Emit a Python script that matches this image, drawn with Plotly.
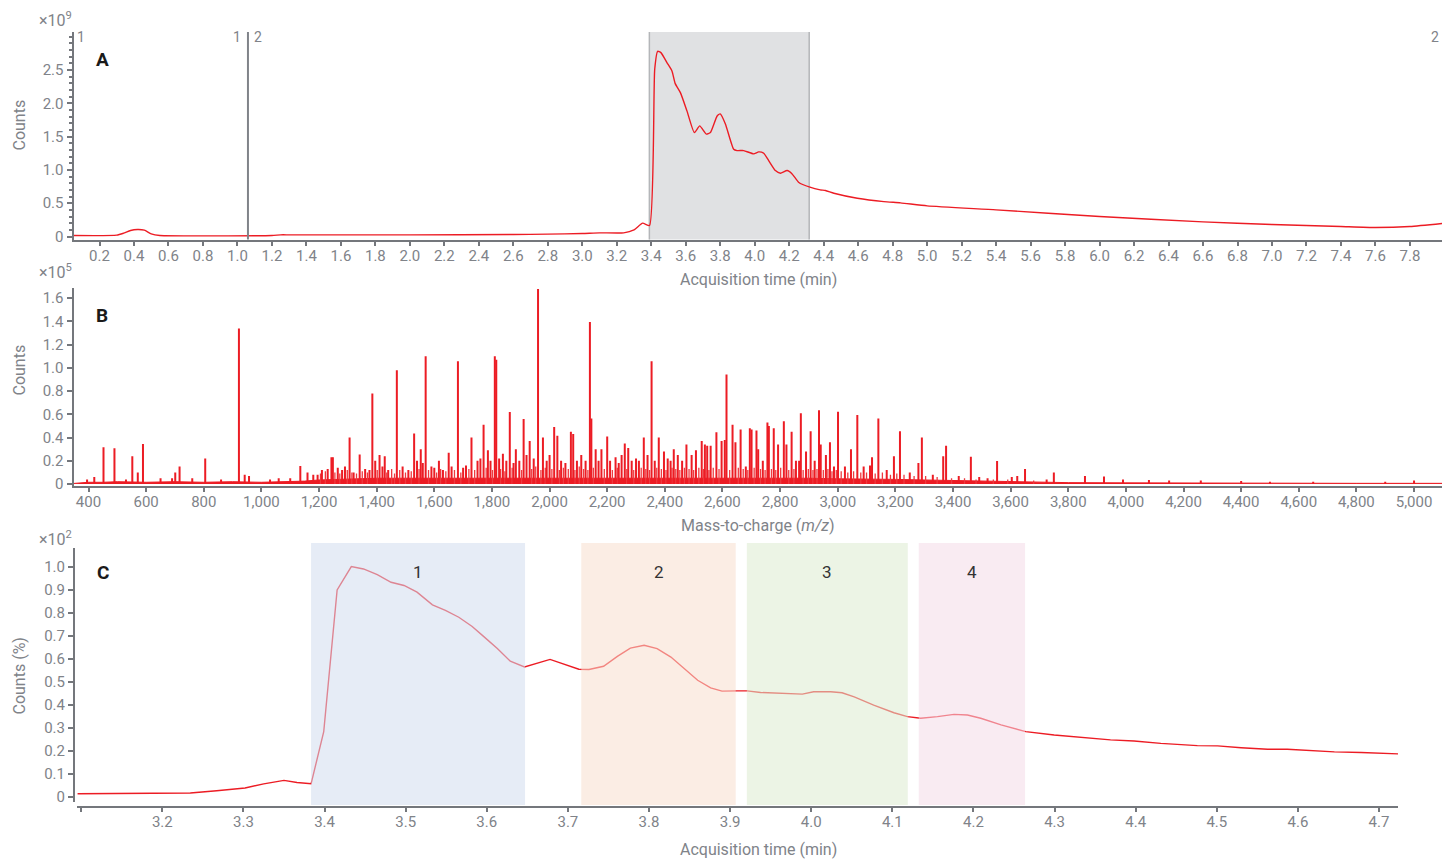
import plotly.graph_objects as go

W, H = 1442, 859
def px(x): return x / W
def py(y): return 1 - y / H

# ---------------- Panel A: TIC chromatogram (counts x1e9) ----------------
tic_time = [0.049, 0.3, 0.34, 0.38, 0.42, 0.46, 0.5, 0.55, 1.2, 1.25, 1.3, 2.0, 2.6, 2.8, 3.0, 3.1,
            3.24, 3.3, 3.35, 3.39, 3.42, 3.437, 3.456, 3.491, 3.52, 3.539, 3.569, 3.607, 3.65, 3.681,
            3.719, 3.743, 3.782, 3.80, 3.83, 3.878, 3.898, 3.936, 3.994, 4.023, 4.052, 4.081, 4.12,
            4.149, 4.188, 4.217, 4.256, 4.32, 4.38, 4.41, 4.459, 4.595, 4.749, 4.846, 5.0, 5.4, 6.0,
            6.6, 7.0, 7.4, 7.6, 7.8, 7.986]
tic_counts_e9 = [0.015, 0.02, 0.05, 0.09, 0.105, 0.095, 0.04, 0.015, 0.015, 0.025, 0.025, 0.025, 0.03,
                 0.035, 0.045, 0.055, 0.055, 0.1, 0.2, 0.165, 2.51, 2.78, 2.76, 2.61, 2.485, 2.295, 2.16,
                 1.886, 1.56, 1.66, 1.537, 1.56, 1.81, 1.84, 1.69, 1.31, 1.29, 1.29, 1.24, 1.27, 1.25,
                 1.14, 0.99, 0.95, 0.99, 0.94, 0.81, 0.74, 0.70, 0.69, 0.65, 0.575, 0.524, 0.505, 0.46,
                 0.40, 0.30, 0.22, 0.18, 0.15, 0.135, 0.15, 0.195]
seg_split_time = 1.061
sel_window = [3.389, 4.316]

# ---------------- Panel B: mass spectrum (counts x1e5) ----------------
peak_mz = [395, 420, 452, 490, 530, 552, 571, 589, 650, 690, 701, 716, 760, 805, 860, 922, 942, 957,
           1030, 1060, 1100, 1135, 1160, 1180, 1195, 1210, 1230, 1243, 1248, 1265, 1280, 1290, 1306,
           1320, 1341, 1360, 1375, 1385, 1395, 1410, 1420, 1428, 1440, 1470, 1490, 1510, 1530, 1540,
           1553, 1560, 1570, 1590, 1600, 1616, 1630, 1650, 1660, 1682, 1700, 1710, 1729, 1750, 1760,
           1771, 1786, 1795, 1810, 1815, 1825, 1838, 1850, 1862, 1875, 1883, 1895, 1910, 1920, 1931,
           1945, 1960, 1977, 1990, 2000, 2016, 2027, 2040, 2055, 2074, 2082, 2095, 2110, 2125, 2140,
           2145, 2160, 2170, 2180, 2200, 2210, 2229, 2240, 2250, 2261, 2273, 2285, 2300, 2310, 2327,
           2340, 2354, 2365, 2379, 2397, 2410, 2420, 2431, 2445, 2460, 2475, 2493, 2508, 2528, 2539,
           2547, 2559, 2579, 2597, 2608, 2614, 2635, 2645, 2663, 2681, 2695, 2701, 2718, 2724, 2740,
           2756, 2761, 2778, 2793, 2813, 2822, 2840, 2855, 2866, 2872, 2890, 2906, 2920, 2935, 2941,
           2959, 2973, 2987, 3001, 3025, 3046, 3068, 3090, 3112, 3119, 3141, 3170, 3195, 3216, 3250,
           3280, 3292, 3330, 3366, 3376, 3420, 3462, 3491, 3520, 3553, 3604, 3623, 3650, 3725, 3750,
           3858, 3924, 3990, 4080, 4150, 4260, 4400, 4500, 4650, 4900, 5000]
peak_int_e5 = [0.04, 0.06, 0.316, 0.307, 0.04, 0.24, 0.10, 0.344, 0.05, 0.05, 0.10, 0.15, 0.05, 0.22,
               0.04, 1.34, 0.08, 0.07, 0.04, 0.05, 0.05, 0.155, 0.10, 0.08, 0.08, 0.12, 0.13, 0.23, 0.23,
               0.14, 0.12, 0.15, 0.40, 0.10, 0.255, 0.13, 0.12, 0.78, 0.20, 0.25, 0.15, 0.24, 0.12, 0.98,
               0.15, 0.12, 0.436, 0.20, 0.30, 0.18, 1.10, 0.15, 0.14, 0.20, 0.12, 0.27, 0.15, 1.058, 0.14,
               0.16, 0.40, 0.20, 0.22, 0.51, 0.29, 0.20, 1.10, 1.07, 0.22, 0.26, 0.20, 0.62, 0.18, 0.30,
               0.20, 0.56, 0.25, 0.37, 0.22, 1.68, 0.40, 0.20, 0.25, 0.49, 0.415, 0.20, 0.18, 0.45, 0.43,
               0.20, 0.25, 0.20, 1.396, 0.565, 0.30, 0.20, 0.30, 0.41, 0.20, 0.23, 0.18, 0.25, 0.35,
               0.31, 0.20, 0.22, 0.20, 0.40, 0.25, 1.058, 0.20, 0.40, 0.28, 0.22, 0.20, 0.30, 0.25, 0.20,
               0.34, 0.25, 0.29, 0.37, 0.34, 0.33, 0.33, 0.445, 0.37, 0.38, 0.943, 0.51, 0.36, 0.47, 0.15,
               0.48, 0.47, 0.46, 0.30, 0.20, 0.53, 0.50, 0.48, 0.34, 0.54, 0.34, 0.45, 0.20, 0.20, 0.61,
               0.28, 0.455, 0.20, 0.636, 0.34, 0.25, 0.36, 0.15, 0.622, 0.15, 0.30, 0.594, 0.15, 0.16,
               0.23, 0.565, 0.12, 0.24, 0.455, 0.10, 0.18, 0.40, 0.08, 0.24, 0.33, 0.07, 0.235, 0.06,
               0.05, 0.198, 0.06, 0.07, 0.13, 0.04, 0.10, 0.07, 0.065, 0.04, 0.035, 0.03, 0.03, 0.025,
               0.02, 0.02, 0.02, 0.03]
# smaller "grass" peaks between the main ones
minor_mz = [1205, 1222, 1255, 1272, 1298, 1314, 1330, 1350, 1368, 1402, 1435, 1452, 1462, 1480, 1500,
            1520, 1547, 1580, 1608, 1622, 1640, 1670, 1692, 1720, 1740, 1780, 1802, 1830, 1845, 1870,
            1903, 1938, 1952, 1970, 1985, 2008, 2034, 2048, 2065, 2088, 2103, 2118, 2133, 2152, 2190,
            2218, 2235, 2268, 2292, 2318, 2334, 2347, 2372, 2388, 2404, 2425, 2438, 2452, 2468, 2484,
            2500, 2518, 2534, 2553, 2568, 2588, 2625, 2655, 2672, 2688, 2710, 2732, 2748, 2770, 2785,
            2802, 2830, 2848, 2880, 2898, 2914, 2928, 2950, 2966, 2980, 2995, 3012, 3035, 3055, 3080,
            3100, 3130, 3155, 3183, 3205, 3230, 3265, 3305, 3345, 3395, 3440, 3480, 3540, 3590, 3680]
minor_int_e5 = [0.09, 0.11, 0.10, 0.09, 0.12, 0.10, 0.09, 0.11, 0.10, 0.12, 0.10, 0.13, 0.09, 0.12, 0.10,
                0.11, 0.13, 0.12, 0.10, 0.13, 0.11, 0.12, 0.10, 0.13, 0.12, 0.14, 0.12, 0.13, 0.11, 0.14,
                0.12, 0.13, 0.15, 0.12, 0.14, 0.13, 0.12, 0.14, 0.13, 0.12, 0.15, 0.13, 0.12, 0.14, 0.13,
                0.12, 0.14, 0.13, 0.12, 0.14, 0.13, 0.12, 0.14, 0.13, 0.12, 0.14, 0.13, 0.12, 0.14, 0.13,
                0.12, 0.14, 0.13, 0.12, 0.14, 0.13, 0.12, 0.14, 0.13, 0.12, 0.14, 0.13, 0.12, 0.13, 0.12,
                0.14, 0.12, 0.13, 0.12, 0.13, 0.12, 0.13, 0.12, 0.13, 0.11, 0.12, 0.11, 0.10, 0.11, 0.10,
                0.10, 0.09, 0.10, 0.08, 0.09, 0.08, 0.07, 0.07, 0.06, 0.05, 0.05, 0.04, 0.04, 0.04, 0.03]
base_mz = [348, 400, 450, 500, 600, 700, 800, 900, 1000, 1100, 1150, 1200, 1250, 1300, 1350, 1400,
           1500, 1600, 1700, 1800, 1900, 2000, 2100, 2200, 2300, 2400, 2500, 2600, 2700, 2800, 2900,
           3000, 3100, 3200, 3300, 3400, 3500, 3600, 3700, 3800, 4000, 4200, 4500, 4800, 5097]
base_int_e5 = [0.005, 0.015, 0.015, 0.02, 0.015, 0.02, 0.015, 0.02, 0.015, 0.02, 0.025, 0.035, 0.04, 0.045,
               0.045, 0.05, 0.05, 0.05, 0.05, 0.055, 0.055, 0.055, 0.055, 0.055, 0.055, 0.055, 0.05, 0.055,
               0.05, 0.05, 0.05, 0.045, 0.045, 0.04, 0.035, 0.03, 0.025, 0.02, 0.015, 0.012, 0.01, 0.008,
               0.008, 0.006, 0.006]

# ---------------- Panel C: zoomed chromatogram (counts %, x1e2) ----------------
zoom_time = [3.0955, 3.2016, 3.2345, 3.267, 3.302, 3.325, 3.35, 3.366, 3.3834, 3.399, 3.4155, 3.433,
             3.448, 3.465, 3.482, 3.498, 3.514, 3.533, 3.549, 3.5655, 3.582, 3.596, 3.613, 3.629,
             3.6465, 3.678, 3.7135, 3.726, 3.744, 3.761, 3.777, 3.794, 3.810, 3.827, 3.843, 3.860,
             3.876, 3.890, 3.909, 3.921, 3.9376, 3.962, 3.989, 4.003, 4.024, 4.038, 4.053, 4.077,
             4.102, 4.1186, 4.135, 4.1556, 4.176, 4.1926, 4.209, 4.234, 4.2645, 4.2995, 4.332, 4.369,
             4.398, 4.431, 4.476, 4.501, 4.530, 4.5627, 4.587, 4.616, 4.645, 4.678, 4.698, 4.725]
zoom_pct_e2 = [0.013, 0.013, 0.016, 0.026, 0.038, 0.056, 0.071, 0.062, 0.056, 0.283, 0.899, 1.0, 0.99,
               0.965, 0.932, 0.918, 0.889, 0.834, 0.81, 0.78, 0.74, 0.697, 0.644, 0.589, 0.564, 0.597,
               0.554, 0.553, 0.567, 0.61, 0.646, 0.658, 0.644, 0.607, 0.557, 0.506, 0.473, 0.459, 0.46,
               0.46, 0.453, 0.449, 0.446, 0.456, 0.456, 0.452, 0.434, 0.398, 0.365, 0.348, 0.341, 0.348,
               0.358, 0.355, 0.341, 0.312, 0.283, 0.268, 0.257, 0.247, 0.242, 0.232, 0.222, 0.221,
               0.213, 0.206, 0.206, 0.20, 0.195, 0.192, 0.189, 0.186]
region_labels = ["1", "2", "3", "4"]
region_start = [3.3833, 3.7165, 3.9206, 4.1326]
region_end = [3.6472, 3.9069, 4.1190, 4.2636]
region_bg = [(230, 236, 246), (251, 237, 228), (236, 244, 229), (249, 235, 242)]

RED = "#ec1c24"
AX = "#74777c"
TXT = "#808389"
FONT = "Roboto"

fig = go.Figure()
fig.add_trace(go.Scatter(x=tic_time, y=tic_counts_e9, mode="lines",
                         line=dict(color=RED, width=1.4, shape="spline", smoothing=0.5),
                         xaxis="x", yaxis="y", showlegend=False))
fig.add_trace(go.Scatter(x=base_mz, y=base_int_e5, mode="lines", fill="tozeroy", fillcolor=RED,
                         line=dict(color=RED, width=1), xaxis="x2", yaxis="y2", showlegend=False))
mx, my = [], []
for m, h in zip(minor_mz, minor_int_e5):
    mx += [m, m, None]
    my += [0, h, None]
fig.add_trace(go.Scatter(x=mx, y=my, mode="lines", line=dict(color="#ee3a40", width=1.3),
                         xaxis="x2", yaxis="y2", showlegend=False))
sx, sy = [], []
for m, h in zip(peak_mz, peak_int_e5):
    sx += [m, m, None]
    sy += [0, h, None]
fig.add_trace(go.Scatter(x=sx, y=sy, mode="lines", line=dict(color=RED, width=2),
                         xaxis="x2", yaxis="y2", showlegend=False))
fig.add_trace(go.Scatter(x=zoom_time, y=zoom_pct_e2, mode="lines", line=dict(color=RED, width=1.4),
                         xaxis="x3", yaxis="y3", showlegend=False))

tickfont = dict(family=FONT, size=15, color=TXT)
common_x = dict(showgrid=False, zeroline=False, showline=True, linecolor=AX, linewidth=2,
                ticks="outside", tickcolor=AX, tickwidth=2, ticklen=4, tickfont=tickfont, automargin=False,
                ticklabelstandoff=-3)
common_y = dict(showgrid=False, zeroline=False, showline=True, linecolor=AX, linewidth=2,
                ticks="outside", tickcolor=AX, tickwidth=1.5, ticklen=5, tickfont=tickfont, automargin=False)

xa_ticks = [round(0.2 * i, 1) for i in range(1, 40)]
xb_ticks = list(range(400, 5001, 200))
xc_ticks = [round(3.1 + 0.1 * i, 1) for i in range(0, 17)]

fig.update_layout(
    width=W, height=H, margin=dict(l=0, r=0, t=0, b=0, pad=0, autoexpand=False),
    paper_bgcolor="white", plot_bgcolor="rgba(0,0,0,0)",
    font=dict(family=FONT, color=TXT),
    xaxis=dict(common_x, domain=[px(73.5), 1.0], range=[0.0492, 7.986], anchor="y",
               tickvals=xa_ticks, ticktext=[f"{v:.1f}" for v in xa_ticks]),
    yaxis=dict(common_y, domain=[py(239.5), py(32)], range=[-0.045, 3.07], anchor="x",
               tickvals=[0, 0.5, 1.0, 1.5, 2.0, 2.5], ticktext=["0", "0.5", "1.0", "1.5", "2.0", "2.5"],
               minor=dict(dtick=0.1, tick0=0, ticks="outside", ticklen=3, tickcolor=AX, tickwidth=1.5)),
    xaxis2=dict(common_x, domain=[px(73.5), 1.0], range=[347.9, 5097], anchor="y2",
                tickvals=xb_ticks, ticktext=[f"{v:,}" for v in xb_ticks]),
    yaxis2=dict(common_y, domain=[py(486), py(288)], range=[-0.017, 1.688], anchor="x2",
                tickvals=[0, 0.2, 0.4, 0.6, 0.8, 1.0, 1.2, 1.4, 1.6],
                ticktext=["0", "0.2", "0.4", "0.6", "0.8", "1.0", "1.2", "1.4", "1.6"]),
    xaxis3=dict(common_x, domain=[px(77), px(1398)], range=[3.0948, 4.7234], anchor="free", position=py(807),
                tickvals=xc_ticks, ticktext=[""] + [f"{v:.1f}" for v in xc_ticks[1:]]),
    yaxis3=dict(common_y, domain=[py(802), py(548)], range=[-0.023, 1.081], anchor="free", position=px(74),
                tickvals=[round(0.1 * i, 1) for i in range(11)],
                ticktext=["0"] + [f"{0.1 * i:.1f}" for i in range(1, 11)]),
)

shapes = []
shapes.append(dict(type="rect", xref="x", yref="paper", x0=sel_window[0], x1=sel_window[1],
                   y0=py(239.5), y1=py(32), fillcolor="#e0e1e3", line=dict(width=0), layer="below"))
for xv in sel_window:
    shapes.append(dict(type="line", xref="x", yref="paper", x0=xv, x1=xv, y0=py(239.5), y1=py(32),
                       line=dict(color="#b4b6b9", width=1.5), layer="below"))
shapes.append(dict(type="line", xref="x", yref="paper", x0=seg_split_time, x1=seg_split_time,
                   y0=py(239.5), y1=py(32), line=dict(color="#808389", width=2)))
alpha = 0.55
for s, e, bg in zip(region_start, region_end, region_bg):
    c = tuple(max(0, min(255, round(255 - (255 - ch) / alpha))) for ch in bg)
    shapes.append(dict(type="rect", xref="x3", yref="paper", x0=s, x1=e, y0=py(805), y1=py(543),
                       fillcolor=f"rgb{c}", opacity=alpha, line=dict(width=0), layer="above"))
fig.update_layout(shapes=shapes)

ann = []
def A(text, x, y, size=15, color=TXT, xanchor="center", yanchor="middle", angle=0, bold=False, xref="paper"):
    ann.append(dict(text=(f"<b>{text}</b>" if bold else text), x=(px(x) if xref == "paper" else x),
                    y=py(y), xref=xref, yref="paper",
                    showarrow=False, xanchor=xanchor, yanchor=yanchor, textangle=angle,
                    font=dict(family=FONT, size=size, color=color)))

A("×10<sup>9</sup>", 74, 32, size=16, xanchor="right", yanchor="bottom")
A("×10<sup>5</sup>", 74, 284, size=16, xanchor="right", yanchor="bottom")
A("×10<sup>2</sup>", 74, 551, size=16, xanchor="right", yanchor="bottom")
A("A", 102.5, 59.5, size=19, color="#1a1a1a", bold=True)
A("B", 102, 315, size=19, color="#1a1a1a", bold=True)
A("C", 102.5, 572, size=19, color="#1a1a1a", bold=True)
A("Counts", 18.5, 125, size=16, angle=-90)
A("Counts", 18.5, 370, size=16, angle=-90)
A("Counts (%)", 18.5, 676, size=16, angle=-90)
A("Acquisition time (min)", 758, 279, size=16)
A("Mass-to-charge (<i>m/z</i>)", 758, 525, size=16)
A("Acquisition time (min)", 758, 849, size=16)
A("1", 80.5, 37, size=14)
A("1", 236.5, 37, size=14)
A("2", 257.5, 37, size=14)
A("2", 1434.5, 37, size=14)
for lab, s, e in zip(region_labels, region_start, region_end):
    A(lab, (s + e) / 2, 572, size=17, color="#333333", xref="x3")
fig.update_layout(annotations=ann)

fig.write_html("out.html")
